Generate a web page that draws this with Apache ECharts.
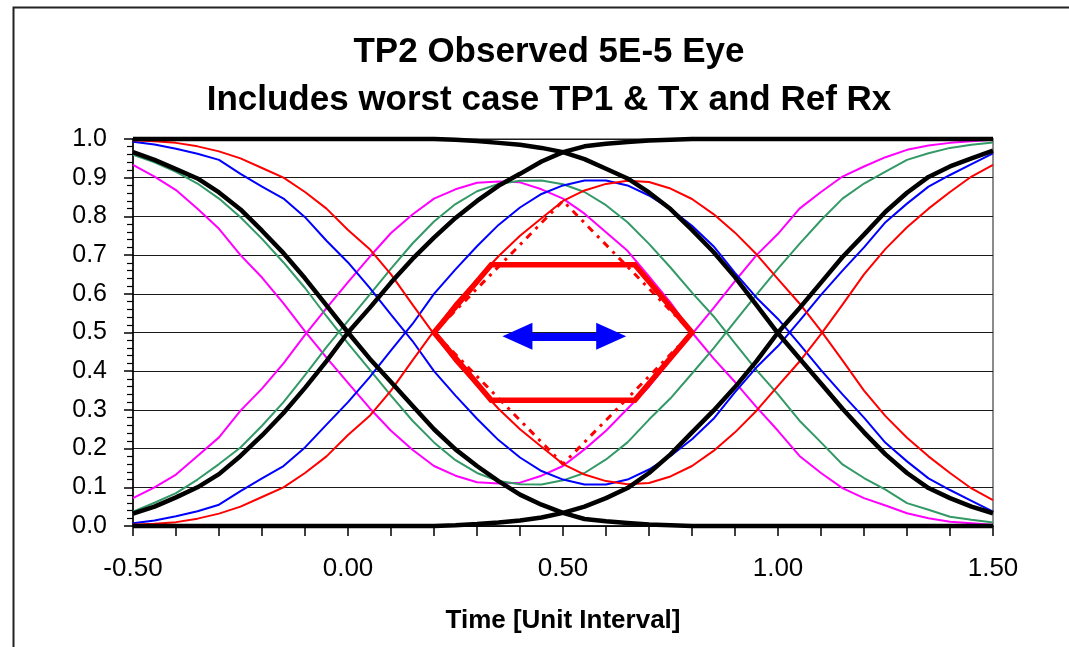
<!DOCTYPE html>
<html>
<head>
<meta charset="utf-8">
<script src="https://cdn.jsdelivr.net/npm/echarts@6/dist/echarts.min.js"></script>
<style>
  html, body { margin: 0; padding: 0; background: #fff; }
  #eye { width: 1069px; height: 647px; }
</style>
</head>
<body>
<div id="eye"></div>
<script>
// time axis in unit intervals, one sample every 0.05 UI
var timeUI = [-0.5, -0.45, -0.4, -0.35, -0.3, -0.25, -0.2, -0.15, -0.1, -0.05,
    0, 0.05, 0.1, 0.15, 0.2, 0.25, 0.3, 0.35, 0.4, 0.45,
    0.5, 0.55, 0.6, 0.65, 0.7, 0.75, 0.8, 0.85, 0.9, 0.95,
    1.0, 1.05, 1.1, 1.15, 1.2, 1.25, 1.3, 1.35, 1.4, 1.45, 1.5];

// thick black edges (full swing)
var blackFallAt1 = [1, 1, 1, 1, 1, 1, 1, 1, 1, 1,
    1, 1, 1, 1, 1, 0.998, 0.995, 0.99, 0.985, 0.977,
    0.966, 0.948, 0.923, 0.898, 0.862, 0.819, 0.765, 0.708, 0.643, 0.571,
    0.498, 0.433, 0.368, 0.303, 0.242, 0.185, 0.137, 0.098, 0.072, 0.05, 0.033];
var blackFallAt0 = [0.966, 0.946, 0.922, 0.898, 0.862, 0.818, 0.763, 0.705, 0.64, 0.57,
    0.5, 0.433, 0.372, 0.311, 0.25, 0.198, 0.155, 0.116, 0.081, 0.055,
    0.034, 0.018, 0.012, 0.008, 0.004, 0.002, 0, 0, 0, 0,
    0, 0, 0, 0, 0, 0, 0, 0, 0, 0, 0];
var blackRiseAt1 = [0, 0, 0, 0, 0, 0, 0, 0, 0, 0,
    0, 0, 0, 0, 0, 0.002, 0.005, 0.009, 0.014, 0.022,
    0.034, 0.05, 0.072, 0.098, 0.137, 0.185, 0.242, 0.298, 0.359, 0.426,
    0.5, 0.563, 0.629, 0.695, 0.753, 0.812, 0.861, 0.902, 0.929, 0.95, 0.97];
var blackRiseAt0 = [0.032, 0.05, 0.074, 0.1, 0.134, 0.181, 0.234, 0.292, 0.357, 0.426,
    0.5, 0.563, 0.629, 0.69, 0.745, 0.796, 0.84, 0.879, 0.91, 0.942,
    0.966, 0.981, 0.988, 0.992, 0.996, 0.998, 1, 1, 1, 1,
    1, 1, 1, 1, 1, 1, 1, 1, 1, 1, 1];

// thin coloured pairs
var magentaFall = [0.933, 0.903, 0.868, 0.82, 0.768, 0.70, 0.642, 0.575, 0.503, 0.435,
    0.37, 0.305, 0.246, 0.197, 0.155, 0.13, 0.113, 0.11, 0.112, 0.13,
    0.155, 0.198, 0.246, 0.303, 0.36, 0.429, 0.496, 0.563, 0.633, 0.70,
    0.755, 0.82, 0.863, 0.903, 0.929, 0.953, 0.972, 0.983, 0.99, 0.994, 0.998];
var magentaRise = [0.072, 0.10, 0.133, 0.181, 0.229, 0.298, 0.355, 0.42, 0.494, 0.563,
    0.63, 0.695, 0.757, 0.805, 0.846, 0.87, 0.887, 0.89, 0.888, 0.87,
    0.846, 0.807, 0.759, 0.711, 0.645, 0.577, 0.5, 0.433, 0.372, 0.307,
    0.246, 0.181, 0.137, 0.098, 0.072, 0.053, 0.033, 0.02, 0.011, 0.007, 0.003];
var greenFall = [0.959, 0.94, 0.915, 0.885, 0.846, 0.798, 0.742, 0.681, 0.615, 0.542,
    0.472, 0.405, 0.337, 0.272, 0.216, 0.17, 0.137, 0.116, 0.108, 0.107,
    0.118, 0.137, 0.172, 0.216, 0.275, 0.33, 0.394, 0.459, 0.529, 0.598,
    0.665, 0.729, 0.79, 0.846, 0.885, 0.916, 0.946, 0.963, 0.977, 0.985, 0.991];
var greenRise = [0.037, 0.06, 0.085, 0.12, 0.16, 0.203, 0.259, 0.32, 0.39, 0.462,
    0.53, 0.597, 0.665, 0.73, 0.787, 0.832, 0.865, 0.884, 0.892, 0.893,
    0.883, 0.863, 0.829, 0.785, 0.729, 0.668, 0.603, 0.542, 0.472, 0.403,
    0.34, 0.272, 0.216, 0.159, 0.124, 0.094, 0.059, 0.042, 0.024, 0.016, 0.009];
var blueFall = [0.993, 0.986, 0.975, 0.962, 0.946, 0.91, 0.877, 0.846, 0.798, 0.737,
    0.681, 0.616, 0.546, 0.478, 0.4, 0.337, 0.277, 0.222, 0.177, 0.142,
    0.12, 0.107, 0.107, 0.12, 0.146, 0.181, 0.224, 0.277, 0.346, 0.41,
    0.465, 0.53, 0.597, 0.66, 0.72, 0.785, 0.833, 0.877, 0.907, 0.935, 0.963];
var blueRise = [0.007, 0.014, 0.025, 0.038, 0.055, 0.09, 0.123, 0.155, 0.203, 0.262,
    0.32, 0.384, 0.454, 0.522, 0.6, 0.663, 0.723, 0.778, 0.823, 0.858,
    0.88, 0.893, 0.893, 0.88, 0.854, 0.819, 0.776, 0.723, 0.654, 0.59,
    0.535, 0.47, 0.403, 0.34, 0.28, 0.215, 0.167, 0.123, 0.093, 0.065, 0.037];
var redFall = [0.997, 0.994, 0.99, 0.981, 0.968, 0.95, 0.925, 0.9, 0.863, 0.82,
    0.765, 0.716, 0.65, 0.572, 0.496, 0.424, 0.363, 0.303, 0.25, 0.205,
    0.16, 0.133, 0.116, 0.108, 0.111, 0.128, 0.155, 0.194, 0.242, 0.298,
    0.362, 0.425, 0.496, 0.572, 0.65, 0.716, 0.772, 0.82, 0.863, 0.903, 0.933];
var redRise = [0.003, 0.006, 0.01, 0.019, 0.032, 0.05, 0.075, 0.1, 0.137, 0.18,
    0.235, 0.284, 0.35, 0.428, 0.504, 0.576, 0.637, 0.697, 0.75, 0.795,
    0.84, 0.867, 0.884, 0.892, 0.889, 0.872, 0.845, 0.806, 0.758, 0.702,
    0.638, 0.575, 0.504, 0.428, 0.35, 0.284, 0.228, 0.18, 0.137, 0.097, 0.067];

// eye mask (hexagon), reference diamond, and the blue width arrow
var maskT = [0.2, 0.333, 0.667, 0.8, 0.667, 0.333, 0.2];
var maskV = [0.5, 0.675, 0.675, 0.5, 0.325, 0.325, 0.5];
var diamondT = [0.2, 0.5, 0.8, 0.5, 0.2];
var diamondV = [0.5, 0.84, 0.5, 0.16, 0.5];
var arrowT = [0.394, 0.612];
var arrowV = 0.49;

var FONT = 'Liberation Sans, Arial, sans-serif';

function pts(xs, ys) {
    return xs.map(function (x, i) { return [x, ys[i]]; });
}

function trace(values, color, width) {
    return {
        type: 'line',
        data: pts(timeUI, values),
        showSymbol: false,
        symbol: 'none',
        clip: false,
        silent: true,
        lineStyle: { color: color, width: width },
        z: width > 3 ? 3 : 2
    };
}

var dom = document.getElementById('eye');
var myChart = echarts.init(dom, null, { renderer: 'canvas' });

var option = {
    animation: false,
    backgroundColor: '#fff',
    title: {
        text: 'TP2 Observed 5E-5 Eye\nIncludes worst case TP1 & Tx and Ref Rx',
        left: 549,
        top: 28,
        padding: 0,
        textAlign: 'center',
        textStyle: {
            fontFamily: FONT,
            fontSize: 35,
            fontWeight: 'bold',
            color: '#000',
            lineHeight: 48
        }
    },
    graphic: [{
        type: 'rect',
        shape: { x: 13.5, y: 7.5, width: 1100, height: 700 },
        style: { fill: null, stroke: '#222', lineWidth: 2 },
        silent: true
    }],
    grid: {
        left: 133,
        right: 76,
        top: 139,
        bottom: 121,
        show: true,
        borderColor: '#8c8c8c',
        borderWidth: 2,
        backgroundColor: 'transparent'
    },
    xAxis: {
        type: 'value',
        min: -0.5,
        max: 1.5,
        interval: 0.1,
        name: 'Time [Unit Interval]',
        nameLocation: 'middle',
        nameGap: 82,
        nameTextStyle: { fontFamily: FONT, fontSize: 26, fontWeight: 'bold', color: '#000' },
        axisLine: { onZero: false, lineStyle: { color: '#000', width: 1.5 } },
        axisTick: { length: 10, lineStyle: { color: '#000', width: 1.5 } },
        splitLine: { show: false },
        axisLabel: {
            margin: 30,
            fontFamily: FONT,
            fontSize: 26,
            color: '#000',
            showMinLabel: true,
            showMaxLabel: true,
            formatter: function (v) {
                var d = v * 2;
                if (Math.abs(d - Math.round(d)) > 1e-6) return '';
                return v.toFixed(2);
            }
        }
    },
    yAxis: {
        type: 'value',
        min: 0,
        max: 1,
        interval: 0.1,
        axisLine: { show: true, onZero: false, lineStyle: { color: '#000', width: 1.5 } },
        axisTick: { show: true, length: 9, lineStyle: { color: '#000', width: 1.5 } },
        minorTick: { show: true, splitNumber: 5, length: 6, lineStyle: { color: '#000', width: 1.2 } },
        splitLine: { show: true, lineStyle: { color: '#1a1a1a', width: 1 } },
        axisLabel: {
            margin: 26,
            fontFamily: FONT,
            fontSize: 25,
            color: '#000',
            formatter: function (v) { return v.toFixed(1); }
        }
    },
    series: [
        trace(magentaFall, '#ff00ff', 2),
        trace(magentaRise, '#ff00ff', 2),
        trace(greenFall, '#339966', 2),
        trace(greenRise, '#339966', 2),
        trace(blueFall, '#0000ff', 2),
        trace(blueRise, '#0000ff', 2),
        trace(redFall, '#ff0000', 2),
        trace(redRise, '#ff0000', 2),
        trace(blackFallAt1, '#000', 4.5),
        trace(blackFallAt0, '#000', 4.5),
        trace(blackRiseAt1, '#000', 4.5),
        trace(blackRiseAt0, '#000', 4.5),
        {
            type: 'line',
            data: pts(diamondT, diamondV),
            showSymbol: false,
            symbol: 'none',
            silent: true,
            lineStyle: { color: '#ff0000', width: 3, type: [7, 6, 3, 6] },
            z: 4
        },
        {
            type: 'line',
            data: pts(maskT, maskV),
            showSymbol: false,
            symbol: 'none',
            silent: true,
            lineStyle: { color: '#ff0000', width: 5.5, join: 'miter' },
            z: 5
        },
        {
            type: 'line',
            data: [],
            silent: true,
            z: 6,
            markLine: {
                silent: true,
                animation: false,
                symbol: ['triangle', 'triangle'],
                symbolSize: [27, 30],
                label: { show: false },
                lineStyle: { color: '#0000ff', width: 8, type: 'solid' },
                data: [[
                    { coord: [arrowT[0], arrowV] },
                    { coord: [arrowT[1], arrowV] }
                ]]
            }
        }
    ]
};

myChart.setOption(option);
window.addEventListener('resize', myChart.resize);
</script>
</body>
</html>
